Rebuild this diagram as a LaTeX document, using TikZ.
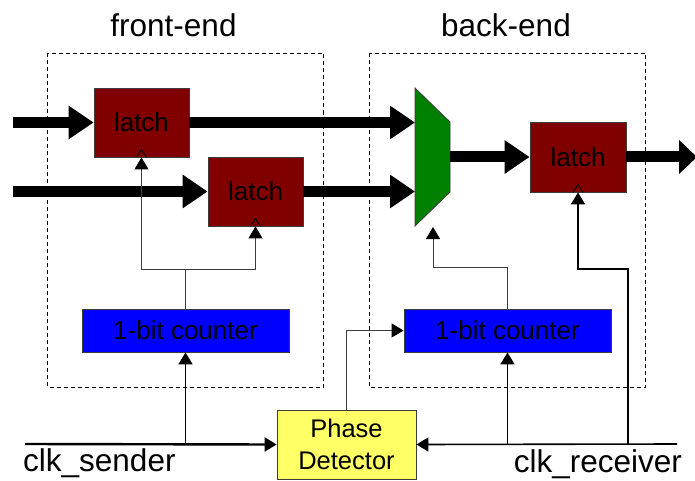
\documentclass[tikz,border=0pt]{standalone}
\usepackage{fontspec}
\setmainfont{Liberation Sans}
\usetikzlibrary{arrows.meta}
\definecolor{latchred}{RGB}{128,0,0}
\definecolor{muxgreen}{RGB}{0,128,0}
\definecolor{cntblue}{RGB}{0,0,255}
\definecolor{pdyellow}{RGB}{255,255,102}
\definecolor{edgegray}{RGB}{60,60,60}
\tikzset{
  latchbox/.style={draw=edgegray, line width=0.8pt, fill=latchred, minimum width=95pt, minimum height=69pt, inner sep=0pt, font=\fontsize{26}{30}\selectfont},
  cntbox/.style={draw=edgegray, line width=0.8pt, fill=cntblue, minimum width=207pt, minimum height=43pt, inner sep=0pt, font=\fontsize{26}{30}\selectfont},
  pdbox/.style={draw=edgegray, line width=0.8pt, fill=pdyellow, minimum width=139pt, minimum height=69pt, inner sep=0pt, align=center, font=\fontsize{25.5}{32}\selectfont},
  regionbox/.style={draw, line width=0.8pt, dash pattern=on 4pt off 3pt},
  titletext/.style={font=\fontsize{31.5}{36}\selectfont, inner sep=0pt},
  busarrow/.style={line width=11pt, -{Triangle[length=25pt,width=32pt]}},
  tri/.style={-{Triangle[length=12pt,width=14pt,color=black]}},
  thinwire/.style={line width=0.9pt, draw=edgegray},
  medwire/.style={line width=1.6pt},
  thickwire/.style={line width=2.4pt},
  clksym/.style={line width=0.8pt, draw=black}
}
\begin{document}
\begin{tikzpicture}[x=1pt,y=-1pt]
\useasboundingbox (0,0) rectangle (695,481);
\begin{scope}
\clip (0,0) rectangle (695,481);

% region boxes
\draw[regionbox] (47.5,53) rectangle (323,387);
\draw[regionbox] (369,53) rectangle (645.5,387);
\node[titletext, anchor=base] (fe) at (173.5,37) {front-end};
\node[titletext, anchor=base] (be) at (506,37) {back-end};

% blocks
\node[latchbox] (latch1) at (141.5,122.5) {latch};
\node[latchbox] (latch2) at (255.5,191.5) {latch};
\node[latchbox, minimum width=96pt, minimum height=70pt] (latch3) at (578,157) {latch};
\node[cntbox] (cnt1) at (185.5,330.5) {1-bit counter};
\node[cntbox] (cnt2) at (507.5,330.5) {1-bit counter};
\node[pdbox] (pd) at (346.5,444.5) {Phase\\Detector};

% multiplexer
\filldraw[fill=muxgreen, draw=edgegray, line width=0.8pt] (415,88) -- (450,122) -- (450,192) -- (415,226) -- cycle;
\coordinate (muxin1) at (415,122.5);
\coordinate (muxin2) at (415,191.5);
\coordinate (muxout) at (450,157);
\coordinate (muxsel) at (433,227);

% clock symbols in latches
\foreach \l in {latch1,latch2,latch3}{
  \draw[clksym] ([xshift=-5pt]\l.south) -- ([yshift=8pt]\l.south) -- ([xshift=5pt]\l.south);
}

% data buses
\coordinate (in1) at (13,122.5);
\coordinate (in2) at (13,191.5);
\coordinate (dout) at (697,157);
\draw[busarrow] (in1) -- (latch1.west);
\draw[busarrow] (latch1.east) -- (muxin1);
\draw[busarrow] (in2) -- (latch2.west);
\draw[busarrow] (latch2.east) -- (muxin2);
\draw[busarrow] (muxout) -- (latch3.west);
\draw[line width=11pt, -{Triangle[length=18pt,width=33pt]}] (latch3.east) -- (dout);

% front-end clock tree
\coordinate (j1) at (185.5,269);
\draw[thinwire] (cnt1.north) -- (j1);
\draw[thinwire, tri] (j1) -| (latch1.south);
\draw[thinwire, tri] (j1) -| (latch2.south);

% back-end mux select
\coordinate (j2) at (507.5,267);
\draw[thinwire, tri] (cnt2.north) -- (j2) -| (muxsel);

% clocks
\coordinate (cs) at (25,444);
\coordinate (js) at (185.5,444);
\coordinate (cr) at (677,444);
\coordinate (jr) at (507.5,444);
\coordinate (j3) at (628,444);
\coordinate (k3) at (628,269);
\draw[thickwire, tri] (cs) -- (pd.west);
\draw[medwire, tri] (js) -- (cnt1.south);
\draw[medwire, tri] (cr) -- (pd.east);
\draw[medwire, tri] (jr) -- (cnt2.south);
\draw[medwire, tri] (j3) -- (k3) -| (latch3.south);
\draw[thinwire, tri] (pd.north) |- (cnt2.west);

\node[titletext, anchor=base west] (lsend) at (23,471) {clk\_sender};
\node[titletext, anchor=base east] (lrecv) at (682,472) {clk\_receiver};
\end{scope}
\end{tikzpicture}
\end{document}
